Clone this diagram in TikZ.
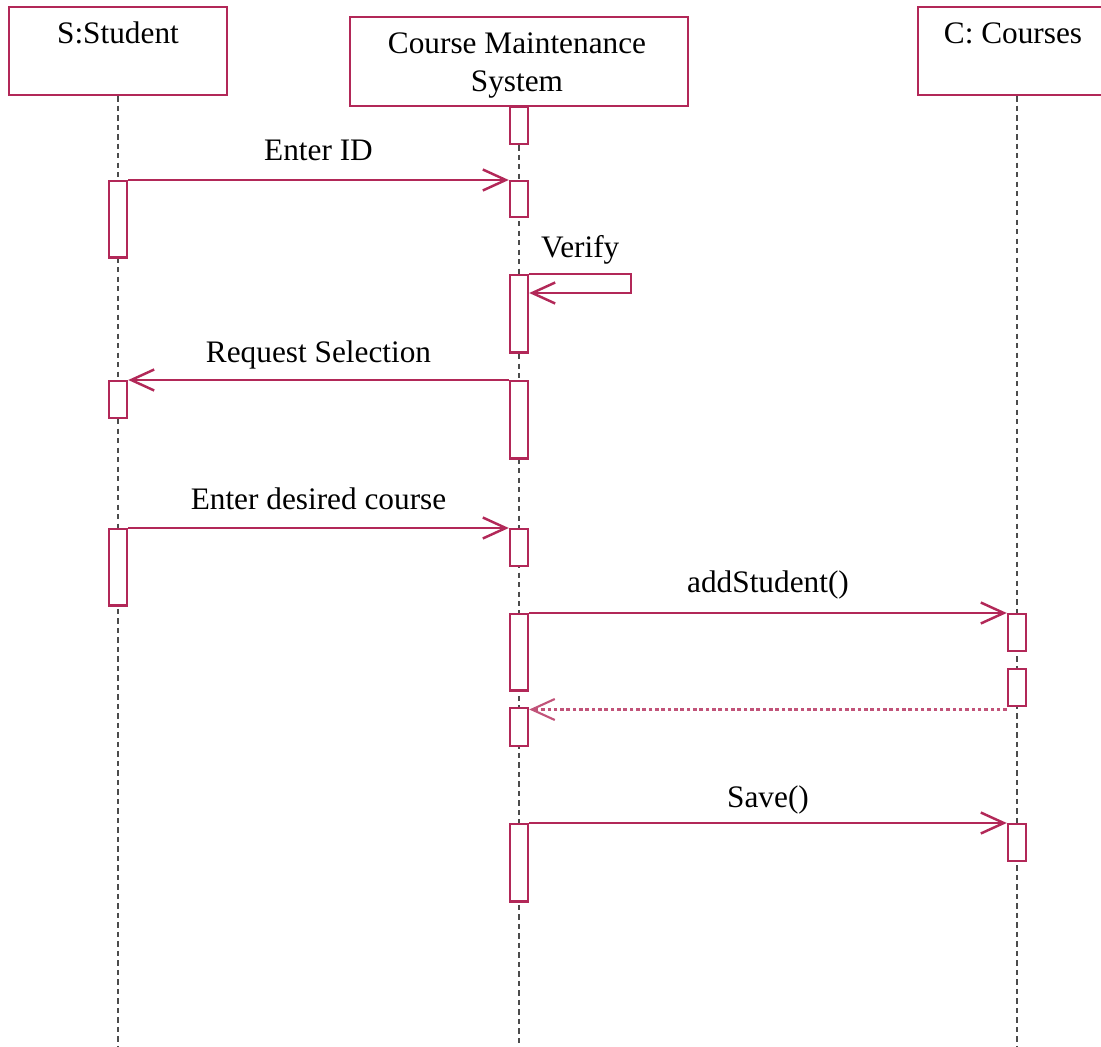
\documentclass[tikz,border=0pt]{standalone}
\usepackage{fontspec}
\setmainfont{Liberation Serif}
\usetikzlibrary{positioning, calc, arrows.meta}
\definecolor{umlred}{RGB}{178,40,88}

\tikzset{
  head/.style={draw=umlred, line width=0.7pt, fill=white, rectangle, inner sep=0pt},
  bar/.style={draw=umlred, line width=0.7pt, fill=white, rectangle, inner sep=0pt,
              minimum width=0.18cm, anchor=north},
  msg/.style={umlred, line width=0.7pt, -{Straight Barb[length=2.3mm,width=2.1mm]}},
  ret/.style={msg, umlred!80, line width=0.6pt, dash pattern=on 1pt off 0.8pt},
  life/.style={gray!60!black, line width=0.4pt, dash pattern=on 1.5pt off 1.2pt},
  lbl/.style={font=\fontsize{8.9}{10.8}\selectfont, inner sep=0pt, text=black}
}
% activation bar: name, x, top, bottom
\newcommand{\actbar}[4]{\node[bar, minimum height=(#4-#3)*0.1mm] (#1) at (#2,#3) {};}

\begin{document}
\begin{tikzpicture}[x=0.01cm, y=-0.01cm]

    \useasboundingbox (0,0) rectangle (1101,1046);
    \coordinate (bottom) at (0,1046);

    % --- Objects ---
    \node[head, minimum width=2.18cm, minimum height=0.88cm] (stu) at (118,51) {};
    \node[lbl] (stuname) at (118,33) {S:Student};

    \node[head, minimum width=3.38cm, minimum height=0.89cm] (cms) at (519,61.5) {};
    \node[lbl, align=center] (cmsname) at (517,66) {Course Maintenance\\System};

    \node[head, minimum width=1.98cm, minimum height=0.88cm] (crs) at (1017,51) {};
    \node[lbl] (crsname) at (1013,33) {C: Courses};

    % --- Lifelines ---
    \draw[life] (stu.south) -- (stu.south |- bottom);
    \draw[life] (cms.south) -- (cms.south |- bottom);
    \draw[life] (crs.south) -- (crs.south |- bottom);

    % --- Activation bars ---
    % Student
    \actbar{s1}{118}{180}{256}
    \actbar{s2}{118}{380}{417}
    \actbar{s3}{118}{528}{604}
    % Course Maintenance System
    \actbar{c0}{519}{106}{143}
    \actbar{c1}{519}{180}{216}
    \actbar{c2}{519}{274}{351}
    \actbar{c3}{519}{380}{457}
    \actbar{c4}{519}{528}{565}
    \actbar{c5}{519}{613}{689}
    \actbar{c6}{519}{707}{745}
    \actbar{c7}{519}{823}{900}
    % Courses
    \actbar{k1}{1017}{613}{650}
    \actbar{k2}{1017}{668}{705}
    \actbar{k3}{1017}{823}{860}

    % --- Messages ---
    \draw[msg] (s1.north east) -- (c1.north west)
        node[lbl, midway, anchor=base, yshift=0.19cm] {Enter ID};

    \draw[msg] (c2.north east) -- ++(102,0)
        node[lbl, midway, anchor=base, yshift=0.16cm] {Verify}
        -- ++(0,19) coordinate (vback) -- (vback -| c2.east);

    \draw[msg] (c3.north west) -- (s2.north east)
        node[lbl, midway, anchor=base, yshift=0.17cm] {Request Selection};

    \draw[msg] (s3.north east) -- (c4.north west)
        node[lbl, midway, anchor=base, yshift=0.18cm] {Enter desired course};

    \draw[msg] (c5.north east) -- (k1.north west)
        node[lbl, midway, anchor=base, yshift=0.2cm] {addStudent()};

    \draw[ret] ([yshift=-0.02cm]k2.south west) -- ([yshift=-0.02cm]k2.south west -| c6.east);

    \draw[msg] (c7.north east) -- (k3.north west)
        node[lbl, midway, anchor=base, yshift=0.16cm] {Save()};

\end{tikzpicture}
\end{document}
